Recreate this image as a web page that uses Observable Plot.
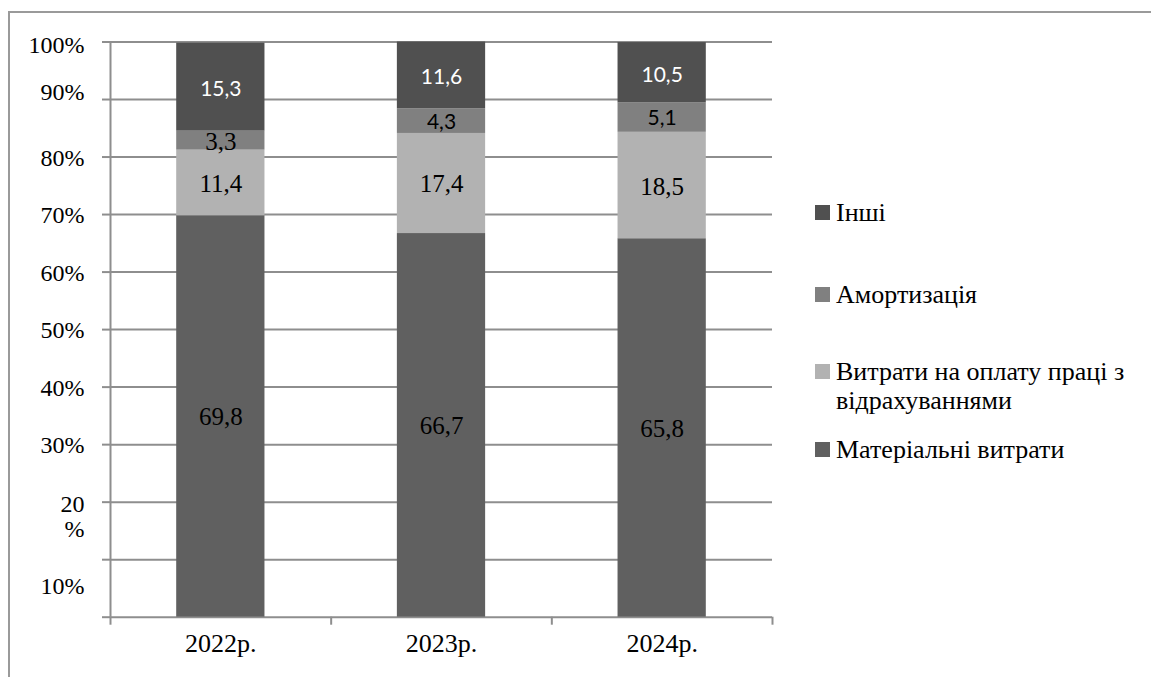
<!DOCTYPE html>
<html>
<head>
<meta charset="utf-8">
<script src="https://cdn.jsdelivr.net/npm/d3@7"></script>
<script src="https://cdn.jsdelivr.net/npm/@observablehq/plot@0.6"></script>
<style>
  html, body { margin: 0; padding: 0; background: #fff; }
  #wrap { position: relative; width: 1151px; height: 677px; overflow: hidden; }
  #frame { position: absolute; left: 8px; top: 11px; width: 1200px; height: 700px;
           border-top: 2px solid #9a9a9a; border-left: 2px solid #9a9a9a; box-sizing: border-box; }
  #chart { position: absolute; left: 0; top: 0; }
  .legend { position: absolute; left: 815px; font-family: "Liberation Serif", "Times New Roman", serif;
            font-size: 26px; color: #000; line-height: 29px; }
  .legend .sw { position: absolute; left: 0; width: 15px; height: 15px; }
  .legend .lbl { position: absolute; left: 21px; white-space: nowrap; }
  #chart svg text { font-family: "Liberation Serif", "Times New Roman", serif; }
  #chart svg .sans text, #chart svg text.sans { font-family: Lato, "Open Sans", sans-serif; }
</style>
</head>
<body>
<div id="wrap">
  <div id="frame"></div>
  <div id="chart"></div>
  <div id="legend"></div>
</div>
<script>
// Cost structure by year, % of total
const years = ["2022р.", "2023р.", "2024р."];
const categories = ["Матеріальні витрати", "Витрати на оплату праці з відрахуваннями", "Амортизація", "Інші"];
const material = [69.8, 66.7, 65.8];
const labour = [11.4, 17.4, 18.5];
const depreciation = [3.3, 4.3, 5.1];
const other = [15.3, 11.6, 10.5];
const yTickValues = [10, 20, 30, 40, 50, 60, 70, 80, 90, 100];
const yTickLabels = ["10%", "20\n%", "30%", "40%", "50%", "60%", "70%", "80%", "90%", "100%"];

const colors = ["#606060", "#b2b2b2", "#808080", "#505050"];
const series = [material, labour, depreciation, other];

// Stack the series bottom-up for each year
const rows = [];
years.forEach((year, i) => {
  let base = 0;
  series.forEach((values, k) => {
    rows.push({i, year, k, category: categories[k], value: values[i], y1: base, y2: base + values[i]});
    base += values[i];
  });
});
const fmt = v => v.toFixed(1).replace(".", ",");
const mid = d => (d.y1 + d.y2) / 2;

const gridColor = "#8e8e8e";
const bounds = [-0.5, 0.5, 1.5, 2.5];

// Segment labels: serif for most, sans for the top two rows of the later years
const serifLabels = rows.filter(d => d.k < 2 || (d.k === 2 && d.i === 0));
const sansDark = rows.filter(d => d.k === 2 && d.i > 0);
const sansLight = rows.filter(d => d.k === 3);

const yLabel = (values, dy, extra = {}) => Plot.text(values, {
  y: d => d, text: d => yTickLabels[yTickValues.indexOf(d)],
  frameAnchor: "left", textAnchor: "end", dx: -26, dy, fontSize: 24, fill: "#000", ...extra
});

const plot = Plot.plot({
  width: 1151,
  height: 677,
  marginLeft: 110,
  marginRight: 379,
  marginTop: 41.5,
  marginBottom: 60.3,
  x: {domain: [-0.5, 2.5]},
  y: {domain: [0, 100]},
  style: {background: "transparent"},
  marks: [
    Plot.ruleY([0, ...yTickValues], {stroke: gridColor, strokeWidth: 2}),
    Plot.ruleX([-0.5], {y1: 0, y2: 100, stroke: gridColor, strokeWidth: 2}),
    Plot.axisY({ticks: [0, ...yTickValues], tickSize: 8, tickFormat: () => "", stroke: gridColor, strokeWidth: 2, strokeOpacity: 1, label: null}),
    Plot.axisX({ticks: bounds, tickSize: 8, tickFormat: () => "", stroke: gridColor, strokeWidth: 2, strokeOpacity: 1, label: null}),
    Plot.rectY(rows, {
      x1: d => d.i - 0.2,
      x2: d => d.i + 0.2,
      y1: "y1",
      y2: "y2",
      fill: d => colors[d.k]
    }),
    Plot.text(serifLabels, {x: "i", y: mid, text: d => fmt(d.value), fontSize: 25, fill: "#000", dy: 1}),
    Plot.text(sansDark, {x: "i", y: mid, text: d => fmt(d.value), className: "sans", fontSize: 21, fill: "#000", dy: 1}),
    Plot.text(sansLight, {x: "i", y: mid, text: d => fmt(d.value), className: "sans", fontSize: 21, fill: "#fff", dy: 2}),
    // y tick labels
    yLabel(yTickValues.filter(v => v >= 30 && v <= 80), 1),
    yLabel([100], 3.5),
    yLabel([90], -7),
    yLabel([20], 14.5, {lineHeight: 1.05}),
    yLabel([10], 27),
    // x tick labels
    Plot.text(years, {x: (d, i) => i, text: d => d, frameAnchor: "bottom", dy: 35, fontSize: 26, fill: "#000"})
  ]
});
document.getElementById("chart").appendChild(plot);

// Legend, top to bottom in reverse stacking order
const legendTops = [435, 357, 280, 198];
const legend = document.getElementById("legend");
[3, 2, 1, 0].forEach(k => {
  const item = document.createElement("div");
  item.className = "legend";
  item.style.top = legendTops[k] + "px";
  const sw = document.createElement("div");
  sw.className = "sw";
  sw.style.background = colors[k];
  sw.style.top = "7px";
  const lbl = document.createElement("div");
  lbl.className = "lbl";
  lbl.style.top = "0px";
  if (k === 1) {
    lbl.innerHTML = "Витрати на оплату праці з<br>відрахуваннями";
  } else {
    lbl.textContent = categories[k];
  }
  item.appendChild(sw);
  item.appendChild(lbl);
  legend.appendChild(item);
});
</script>
</body>
</html>
